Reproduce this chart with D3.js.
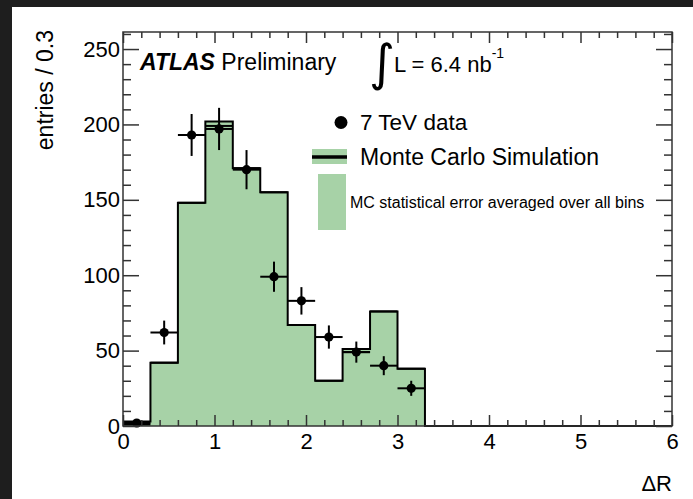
<!DOCTYPE html>
<html>
<head>
<meta charset="utf-8">
<script src="https://cdn.jsdelivr.net/npm/d3@7"></script>
<style>
  html, body { margin: 0; padding: 0; background: #1e1e1e; }
  svg { display: block; }
  text { font-family: "Liberation Sans", Arial, Helvetica, sans-serif; fill: #000; }
</style>
</head>
<body>
<svg id="chart" width="693" height="499"></svg>
<script>
// ---- data ----
const binEdges   = [0, 0.3, 0.6, 0.9, 1.2, 1.5, 1.8, 2.1, 2.4, 2.7, 3.0, 3.3];
const mcFill     = [3, 42, 148, 202, 171, 155, 67, 30, 51, 76, 38];   // filled MC histogram (outline)
const mcCentral  = [1, 42, 148, 199, 171, 155, 67, 30, 49, 76, 38];   // MC central line
const dataValues = [2, 62, 193, 197, 170, 99, 83, 59, 49, 40, 25];
const dataErrors = [1.4, 7.9, 13.9, 14.0, 13.0, 10.0, 9.1, 7.7, 7.0, 6.3, 5.0];
const xMajorTicks = [0, 1, 2, 3, 4, 5, 6];
const yMajorTicks = [0, 50, 100, 150, 200, 250];
const xMinorStep = 0.2;
const yMinorStep = 10;

const svg = d3.select("#chart");
const W = 693, H = 499;

// white canvas with dark strip on top and left
svg.append("rect").attr("x", 12).attr("y", 7).attr("width", W - 12).attr("height", H - 7).attr("fill", "#fff");

const x = d3.scaleLinear().domain([0, 6]).range([123, 672]);
const y = d3.scaleLinear().domain([0, 261.3]).range([426, 32]);

const green = "#a7d2a7";

// ---- MC histogram fill ----
const pts = mcFill.map((v, i) => [binEdges[i], v]);
pts.push([binEdges[binEdges.length - 1], mcFill[mcFill.length - 1]]);

const area = d3.area().curve(d3.curveStepAfter)
  .x(d => x(d[0])).y0(y(0)).y1(d => y(d[1]));
svg.append("path").datum(pts).attr("d", area).attr("fill", green);

const outlinePts = pts.concat([[binEdges[binEdges.length - 1], 0], [6, 0]]);
const line = d3.line().curve(d3.curveStepAfter).x(d => x(d[0])).y(d => y(d[1]));
svg.append("path").datum(outlinePts).attr("d", line)
  .attr("fill", "none").attr("stroke", "#000").attr("stroke-width", 2);

// central MC line per bin
svg.append("g").selectAll("line").data(mcCentral).join("line")
  .attr("x1", (d, i) => x(binEdges[i])).attr("x2", (d, i) => x(binEdges[i + 1]))
  .attr("y1", d => y(d)).attr("y2", d => y(d))
  .attr("stroke", "#000").attr("stroke-width", 2);

// ---- data points ----
const gd = svg.append("g");
dataValues.forEach((v, i) => {
  const c = (binEdges[i] + binEdges[i + 1]) / 2;
  gd.append("line").attr("x1", x(binEdges[i])).attr("x2", x(binEdges[i + 1]))
    .attr("y1", y(v)).attr("y2", y(v)).attr("stroke", "#000").attr("stroke-width", 2);
  gd.append("line").attr("x1", x(c)).attr("x2", x(c))
    .attr("y1", y(v - dataErrors[i])).attr("y2", y(v + dataErrors[i]))
    .attr("stroke", "#000").attr("stroke-width", 2);
  gd.append("circle").attr("cx", x(c)).attr("cy", y(v)).attr("r", 4.6).attr("fill", "#000");
});

// ---- axes / frame ----
const xMinor = d3.range(0, 6.0001, xMinorStep).map(v => +v.toFixed(2)).filter(v => !xMajorTicks.includes(v));
const yMinor = d3.range(0, 261, yMinorStep).filter(v => !yMajorTicks.includes(v));
const axisColor = "#333";

function styleAxis(g) {
  g.select(".domain").remove();
  g.selectAll(".tick line").attr("stroke", axisColor).attr("stroke-width", 1.5);
  g.selectAll(".tick text").style("font-size", "22px")
    .style("font-family", '"Liberation Sans", Arial, Helvetica, sans-serif').attr("fill", "#000");
}

// bottom
svg.append("g").attr("transform", `translate(0,${y(0)})`)
  .call(d3.axisBottom(x).tickValues(xMajorTicks).tickSize(-11).tickPadding(7).tickFormat(d3.format("d")))
  .call(styleAxis);
svg.append("g").attr("transform", `translate(0,${y(0)})`)
  .call(d3.axisBottom(x).tickValues(xMinor).tickSize(-6).tickFormat(""))
  .call(styleAxis);
// top
svg.append("g").attr("transform", `translate(0,${y.range()[1]})`)
  .call(d3.axisTop(x).tickValues(xMajorTicks).tickSize(-11).tickFormat(""))
  .call(styleAxis);
svg.append("g").attr("transform", `translate(0,${y.range()[1]})`)
  .call(d3.axisTop(x).tickValues(xMinor).tickSize(-6).tickFormat(""))
  .call(styleAxis);
// left
svg.append("g").attr("transform", `translate(${x(0)},0)`)
  .call(d3.axisLeft(y).tickValues(yMajorTicks).tickSize(-16).tickPadding(3).tickFormat(d3.format("d")))
  .call(styleAxis);
svg.append("g").attr("transform", `translate(${x(0)},0)`)
  .call(d3.axisLeft(y).tickValues(yMinor).tickSize(-8).tickFormat(""))
  .call(styleAxis);
// right
svg.append("g").attr("transform", `translate(${x(6)},0)`)
  .call(d3.axisRight(y).tickValues(yMajorTicks).tickSize(-16).tickFormat(""))
  .call(styleAxis);
svg.append("g").attr("transform", `translate(${x(6)},0)`)
  .call(d3.axisRight(y).tickValues(yMinor).tickSize(-8).tickFormat(""))
  .call(styleAxis);

svg.append("rect").attr("x", x(0)).attr("y", y.range()[1])
  .attr("width", x(6) - x(0)).attr("height", y(0) - y.range()[1])
  .attr("fill", "none").attr("stroke", axisColor).attr("stroke-width", 1.5);

// axis titles
svg.append("text").attr("transform", "translate(53,30) rotate(-90)")
  .attr("text-anchor", "end").style("font-size", "23px").text("entries / 0.3");
svg.append("text").attr("x", 672).attr("y", 491).attr("text-anchor", "end")
  .style("font-size", "22px").text("ΔR");

// ---- labels ----
const atlas = svg.append("text").attr("x", 140).attr("y", 70).style("font-size", "23px");
atlas.append("tspan").style("font-weight", "bold").style("font-style", "italic").text("ATLAS");
atlas.append("tspan").text(" Preliminary");

svg.append("text").attr("x", 369).attr("y", 80)
  .style("font-family", '"DejaVu Sans", sans-serif').style("font-size", "50px").text("∫");
const lum = svg.append("text").attr("x", 394).attr("y", 72).style("font-size", "22px");
lum.append("tspan").text("L = 6.4 nb");
lum.append("tspan").attr("dy", -14).style("font-size", "14px").text("-1");

// ---- legend ----
svg.append("circle").attr("cx", 341).attr("cy", 122.5).attr("r", 6.5).attr("fill", "#000");
svg.append("text").attr("x", 360).attr("y", 130).style("font-size", "22.5px").text("7 TeV data");

svg.append("rect").attr("x", 312).attr("y", 149).attr("width", 35).attr("height", 15).attr("fill", green);
svg.append("line").attr("x1", 312).attr("x2", 347).attr("y1", 157).attr("y2", 157)
  .attr("stroke", "#000").attr("stroke-width", 3.5);
svg.append("text").attr("x", 360).attr("y", 165).style("font-size", "23px").text("Monte Carlo Simulation");

svg.append("rect").attr("x", 318).attr("y", 174).attr("width", 28).attr("height", 56).attr("fill", green);
svg.append("text").attr("x", 350).attr("y", 208).style("font-size", "16px")
  .text("MC statistical error averaged over all bins");
</script>
</body>
</html>
